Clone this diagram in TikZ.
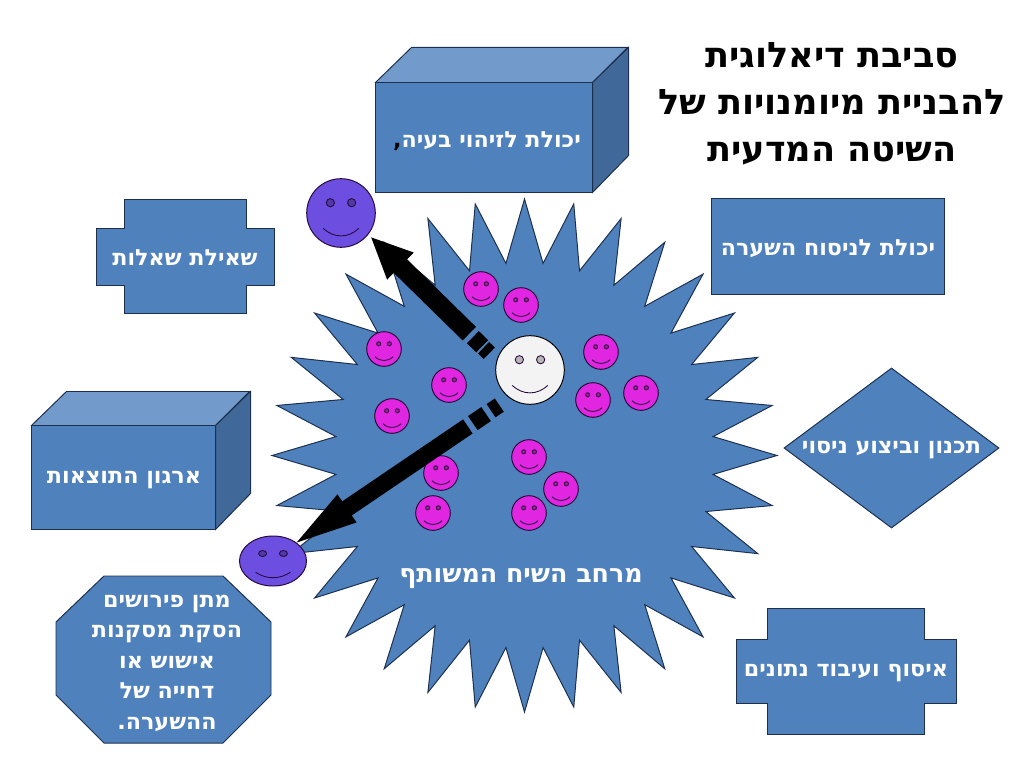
\documentclass[tikz,border=0pt]{standalone}
\usepackage{fontspec}
\usepackage{xcolor}
\usetikzlibrary{shapes,calc}
\TeXXeTstate=1
\newfontfamily\hebfont[Script=Hebrew]{DejaVu Sans}
\newcommand{\heb}[1]{\beginR #1\endR}
\definecolor{boxcolor}{RGB}{79,129,189}
\definecolor{linecolor}{RGB}{28,48,78}
\definecolor{topcolor}{RGB}{114,154,203}
\definecolor{sidecolor}{RGB}{64,104,153}
\definecolor{pinkcolor}{RGB}{224,38,224}
\definecolor{purplecolor}{RGB}{108,78,224}
\definecolor{whitecolor}{RGB}{243,243,243}
\definecolor{facelinecolor}{RGB}{40,8,60}

\begin{document}
\begin{tikzpicture}[
    x=0.025cm, y=-0.025cm,
    blueshape/.style={draw=linecolor, fill=boxcolor, line width=0.7pt},
    boxtext/.style={font=\hebfont\bfseries\fontsize{15.8}{21.7}\selectfont, text=white, align=center, inner sep=0pt},
    titletext/.style={font=\hebfont\bfseries\fontsize{25}{33.5}\selectfont, align=center, inner sep=0pt},
    frontbox/.style={rectangle, blueshape, inner sep=0pt, minimum width=#1},
    face/.style 2 args={
        ellipse, draw=facelinecolor, line width=0.7pt, inner sep=0pt,
        minimum width=#1*0.05cm, minimum height=#2*0.05cm,
        path picture={
            \begin{scope}[shift={(path picture bounding box.center)}, x=#1*0.025cm, y=-#2*0.025cm, line width=0.6pt, facelinecolor]
                \fill[black, opacity=0.25] (-0.31,-0.3) circle[x radius=0.12, y radius=0.12];
                \fill[black, opacity=0.25] (0.31,-0.3) circle[x radius=0.12, y radius=0.12];
                \draw (-0.31,-0.3) circle[x radius=0.12, y radius=0.12];
                \draw (0.31,-0.3) circle[x radius=0.12, y radius=0.12];
                \draw (-0.52,0.45) .. controls (-0.2,0.74) and (0.2,0.74) .. (0.52,0.45);
            \end{scope}
        }
    },
    pinkface/.style={face={17.3}{17.3}, fill=pinkcolor},
    purpleface/.style={face={34.3}{34.3}, fill=purplecolor},
    flatface/.style={face={33.5}{25}, fill=purplecolor},
    whiteface/.style={face={34.3}{34.3}, fill=whitecolor, draw=black}
]

% Canvas
\useasboundingbox (0,0) rectangle (1024,768);

% Central star
\draw[blueshape, shift={(524.5,455.5)}] (0,-256.5)
    \foreach \i in {1,...,63} {
        -- ({sin(\i*5.625)*(isodd(\i) ? 189.5 : 252.5)}, {-cos(\i*5.625)*(isodd(\i) ? 193 : 256.5)})
    } -- cycle;
\node[boxtext, font=\hebfont\bfseries\fontsize{18}{22}\selectfont] (shared) at (521,579) {\heb{מרחב השיח המשותף}};

% Title
\node[titletext] (title) at (832,104) {\heb{סביבת דיאלוגית}\\\heb{להבניית מיומנויות של}\\\heb{השיטה המדעית}};

% Cube - problem
\node[frontbox=5.4cm, minimum height=2.725cm] (problem) at (484,137.5) {};
\draw[blueshape, fill=topcolor] (problem.north west) -- ++(36,-35) -- ++(216,0) -- (problem.north east) -- cycle;
\draw[blueshape, fill=sidecolor] (problem.north east) -- ++(36,-35) -- ++(0,108) -- (problem.south east) -- cycle;
\node[boxtext] (problemtext) at (487,141) {{\color{black},}\heb{יכולת לזיהוי בעיה}};

% Cube - results
\node[frontbox=4.575cm, minimum height=2.575cm] (results) at (123.5,477.5) {};
\draw[blueshape, fill=topcolor] (results.north west) -- ++(35,-34) -- ++(183,0) -- (results.north east) -- cycle;
\draw[blueshape, fill=sidecolor] (results.north east) -- ++(35,-34) -- ++(0,102) -- (results.south east) -- cycle;
\node[boxtext] (resultstext) at (124,480) {\heb{ארגון התוצאות}};

% Hypothesis
\node[rectangle, blueshape, minimum width=5.8cm, minimum height=2.375cm] (hypothesis) at (828,246.5) {};
\node[boxtext] (hypothesistext) at (828,249) {\heb{יכולת לניסוח השערה}};

% Experiment
\node[diamond, blueshape, inner sep=0pt, minimum width=5.375cm, minimum height=4cm] (experiment) at (891.5,448) {};
\node[boxtext] (experimenttext) at (891.5,450) {\heb{תכנון וביצוע ניסוי}};

% Questions
\draw[blueshape] (124,199) -- (246,199) -- (246,228) -- (274,228) -- (274,285) -- (246,285) -- (246,313) -- (124,313) -- (124,285) -- (96,285) -- (96,228) -- (124,228) -- cycle;
\node[boxtext] (questions) at (185,258) {\heb{שאילת שאלות}};

% Data
\draw[blueshape] (767,608) -- (924,608) -- (924,639) -- (956,639) -- (956,703) -- (924,703) -- (924,734) -- (767,734) -- (767,703) -- (736,703) -- (736,639) -- (767,639) -- cycle;
\node[boxtext] (data) at (846,673) {\heb{איסוף ועיבוד נתונים}};

% Conclusions
\draw[blueshape] (104,576) -- (223,576) -- (271,622) -- (271,695) -- (223,743) -- (104,743) -- (56,695) -- (56,622) -- cycle;
\node[boxtext] (conclusions) at (167,663) {\heb{מתן פירושים}\\\heb{הסקת מסקנות}\\\heb{אישוש או}\\\heb{דחייה של}\\\heb{ההשערה.}};

% Faces
\node[pinkface] (p1) at (481,289) {};
\node[pinkface] (p2) at (521,305) {};
\node[pinkface] (p3) at (384,349) {};
\node[pinkface] (p4) at (449,385) {};
\node[pinkface] (p5) at (392,416) {};
\node[pinkface] (p6) at (601,352) {};
\node[pinkface] (p7) at (593,400) {};
\node[pinkface] (p8) at (641,393) {};
\node[pinkface] (p9) at (441,473) {};
\node[pinkface] (p10) at (529,457) {};
\node[pinkface] (p11) at (561,489) {};
\node[pinkface] (p12) at (433,513) {};
\node[pinkface] (p13) at (529,513) {};
\node[whiteface] (teacher) at (530,370) {};
\node[purpleface] (pupiltop) at (341,213) {};
\node[flatface] (pupilbottom) at (273,561) {};

% Arrow to top pupil
\coordinate (tipa) at ($(pupiltop.-40)+(3.5,2)$);
\coordinate (taila) at (teacher.164);
\fill[black] (tipa) -- ($(tipa)!41*0.025cm!(taila)!19*0.025cm!90:(taila)$) -- ($(tipa)!41*0.025cm!(taila)!19*0.025cm!-90:(taila)$) -- cycle;
\draw[black, line width=0.475cm] ($(tipa)!40*0.025cm!(taila)$) -- ($(tipa)!137.5*0.025cm!(taila)$);
\draw[black, line width=0.425cm] ($(tipa)!142.5*0.025cm!(taila)$) -- ($(tipa)!155.5*0.025cm!(taila)$);
\draw[black, line width=0.4cm] ($(tipa)!157.5*0.025cm!(taila)$) -- ($(tipa)!165.5*0.025cm!(taila)$);

% Arrow to bottom pupil
\coordinate (tipb) at (pupilbottom.38);
\coordinate (tailb) at (teacher.234);
\fill[black] (tipb) -- ($(tipb)!61*0.025cm!(tailb)!17*0.025cm!90:(tailb)$) -- ($(tipb)!61*0.025cm!(tailb)!17*0.025cm!-90:(tailb)$) -- cycle;
\draw[black, line width=0.425cm] ($(tipb)!60*0.025cm!(tailb)$) -- ($(tipb)!207*0.025cm!(tailb)$);
\draw[black, line width=0.425cm] ($(tipb)!213*0.025cm!(tailb)$) -- ($(tipb)!229*0.025cm!(tailb)$);
\draw[black, line width=0.4cm] ($(tipb)!235*0.025cm!(tailb)$) -- ($(tipb)!245*0.025cm!(tailb)$);

\end{tikzpicture}
\end{document}
